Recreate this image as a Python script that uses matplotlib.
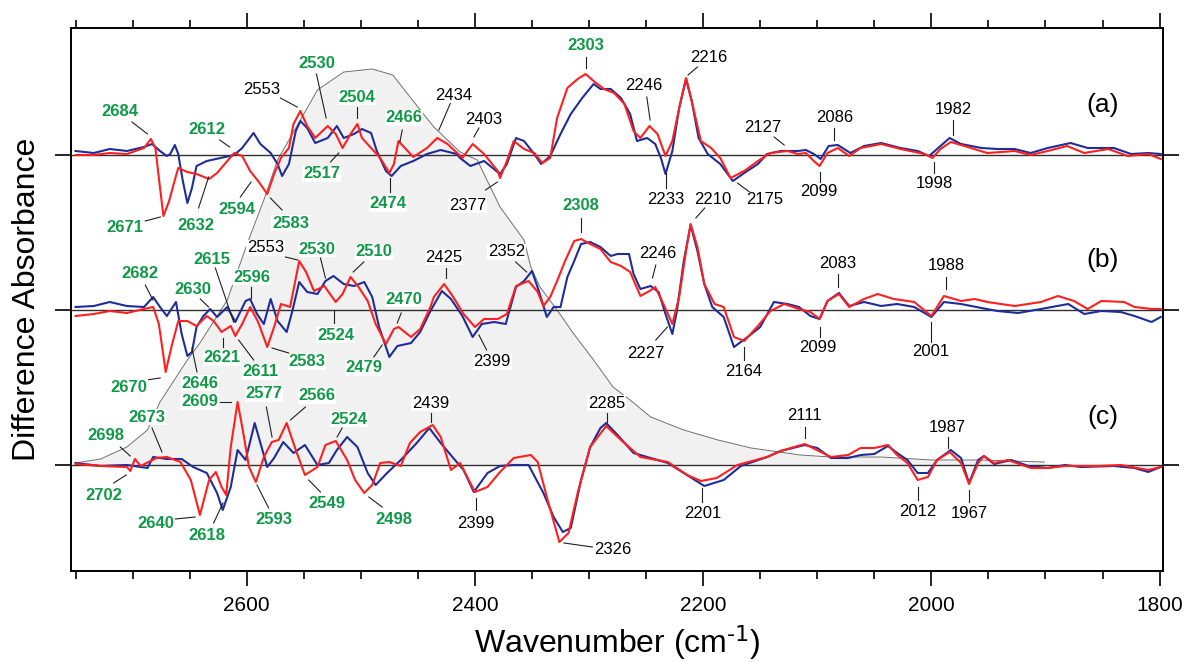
import numpy as np
import matplotlib
matplotlib.use("Agg")
from matplotlib import pyplot as plt

plt.rcParams['font.family'] = ['Liberation Sans', 'DejaVu Sans']
plt.rcParams['mathtext.default'] = 'regular'

# ---- data: wavenumber (cm-1) and difference absorbance (arb. units, per trace) ----
a_blue_w = [2750, 2734, 2720, 2705, 2690, 2683, 2676, 2670, 2667, 2663, 2660, 2656, 2652, 2648, 2644, 2635,
            2623, 2611, 2604, 2594, 2588, 2579, 2573, 2569, 2563, 2557, 2553, 2547, 2540, 2529, 2521, 2515,
            2506, 2499, 2491, 2486, 2478, 2473, 2465, 2454, 2442, 2430, 2416, 2413, 2404, 2392, 2378, 2372,
            2364, 2357, 2348, 2342, 2334, 2325, 2316, 2306, 2296, 2290, 2281, 2272, 2264, 2258, 2249, 2242,
            2237, 2233, 2227, 2221, 2215, 2210, 2204, 2196, 2185, 2174, 2164, 2152, 2144, 2132, 2117, 2110,
            2103, 2097, 2090, 2082, 2071, 2059, 2044, 2027, 2012, 2002, 1994, 1984, 1974, 1956, 1942, 1927,
            1913, 1898, 1878, 1863, 1840, 1825, 1810, 1799]
a_blue_v = [0.4, 0.2, 0.6, 0.4, 0.8, 1.1, 0.4, -0.1, 0.1, 1.0, 0.1, -2.6, -4.8, -3.3, -1.1, -0.6,
            -0.3, 0.0, 0.7, 2.2, 1.1, 0.2, -0.9, -2.1, -0.9, 2.4, 3.4, 2.7, 1.2, 1.7, 2.9, 1.7,
            2.1, 2.6, 2.2, 0.4, -1.6, -2.1, -1.1, -0.6, 0.1, 0.5, 0.1, -0.3, -1.1, -0.6, -1.9, -0.9,
            1.7, 1.4, 0.1, -0.9, -0.1, 2.1, 4.1, 5.7, 7.1, 6.6, 6.6, 5.7, 4.1, 1.4, 1.7, 1.1,
            -0.3, -1.9, 0.4, 4.7, 7.6, 5.4, 1.7, 0.1, -0.9, -2.6, -1.8, -0.9, 0.1, 0.4, 0.4, 0.5,
            0.1, -0.4, 0.9, 1.0, 0.2, 0.9, 1.2, 0.7, 0.4, -0.1, 0.7, 1.7, 1.1, 0.7, 0.6, 0.6,
            0.2, 0.7, 1.2, 0.7, 0.7, 0.1, 0.2, 0.1]

a_red_w = [2750, 2734, 2720, 2705, 2690, 2684, 2680, 2677, 2673, 2668, 2664, 2660, 2652, 2644, 2633, 2626,
           2617, 2611, 2604, 2597, 2590, 2582, 2576, 2570, 2563, 2559, 2553, 2547, 2540, 2529, 2522, 2516,
           2509, 2503, 2499, 2491, 2483, 2475, 2471, 2467, 2459, 2454, 2442, 2433, 2424, 2411, 2402, 2392,
           2380, 2378, 2372, 2366, 2357, 2348, 2341, 2334, 2328, 2319, 2310, 2303, 2296, 2287, 2278, 2269,
           2261, 2255, 2247, 2240, 2233, 2227, 2221, 2215, 2210, 2202, 2193, 2185, 2176, 2164, 2152, 2141,
           2126, 2117, 2110, 2103, 2098, 2091, 2082, 2072, 2062, 2044, 2027, 2006, 1999, 1992, 1983, 1971,
           1951, 1927, 1913, 1898, 1881, 1866, 1845, 1828, 1810, 1799]
a_red_v = [0.0, 0.0, 0.2, 0.1, 0.7, 1.6, 0.7, -2.3, -6.1, -4.6, -2.9, -1.3, -1.7, -1.9, -2.4, -1.8,
           -0.6, 0.2, -0.1, -1.6, -2.6, -3.9, -1.9, -0.3, 0.7, 3.1, 4.4, 2.9, 1.7, 2.9, 2.1, 0.7,
           2.1, 3.1, 1.7, 0.7, -0.3, -1.8, -0.9, 1.4, 0.4, -0.2, 0.7, 1.7, 1.1, -0.3, 1.1, 0.1,
           -1.6, -2.3, -0.6, 1.4, 0.6, 0.2, -0.8, -0.3, 3.7, 6.7, 7.6, 8.1, 7.4, 6.6, 6.2, 5.1,
           2.4, 1.7, 2.9, 2.1, -0.1, 1.4, 4.7, 7.7, 5.4, 1.4, 0.7, -0.3, -2.3, -1.6, -0.6, 0.2,
           0.4, 0.1, 0.2, -0.6, -1.1, 0.2, 0.7, -0.1, 0.7, 1.1, 0.6, 0.1, -0.3, 0.6, 1.3, 0.9,
           0.2, 0.4, 0.0, 0.4, 0.9, 0.2, 0.6, -0.1, 0.1, -0.4]

b_blue_w = [2750, 2734, 2720, 2705, 2690, 2682, 2676, 2670, 2662, 2657, 2652, 2648, 2644, 2638, 2632, 2626,
            2617, 2610, 2601, 2597, 2591, 2585, 2579, 2573, 2565, 2560, 2554, 2547, 2538, 2531, 2524, 2515,
            2506, 2497, 2490, 2484, 2475, 2468, 2456, 2448, 2439, 2429, 2421, 2411, 2402, 2394, 2383, 2373,
            2364, 2357, 2350, 2344, 2337, 2331, 2325, 2319, 2313, 2307, 2299, 2290, 2281, 2275, 2265, 2261,
            2255, 2246, 2239, 2233, 2227, 2223, 2217, 2211, 2205, 2199, 2192, 2182, 2173, 2161, 2150, 2138,
            2126, 2116, 2106, 2098, 2091, 2081, 2072, 2059, 2044, 2030, 2015, 2000, 1989, 1974, 1956, 1942,
            1924, 1904, 1880, 1866, 1851, 1834, 1822, 1807, 1799]
b_blue_v = [0.3, 0.4, 0.8, 0.4, 0.3, 1.3, 0.3, -0.6, 0.8, -2.4, -4.6, -4.2, -1.7, -0.6, 0.1, -0.7,
            0.3, -1.2, 0.9, 1.1, -0.4, -1.4, 1.1, -1.1, -2.2, -0.1, 2.8, 1.8, 1.6, 2.9, 3.4, 2.6,
            2.4, 2.8, 1.3, -1.7, -4.7, -3.6, -3.3, -2.2, -0.1, 1.9, 1.1, -0.6, -2.7, -1.4, -1.2, -1.4,
            2.3, 2.9, 3.9, 1.9, -0.7, 0.3, 0.3, 3.3, 4.9, 6.6, 6.8, 6.3, 5.4, 5.6, 5.6, 3.6,
            2.1, 2.4, 1.8, -0.4, -2.4, -0.1, 4.9, 8.5, 5.9, 2.6, 0.3, -0.7, -3.7, -2.7, -1.7, 0.8,
            0.6, 0.3, -0.6, -0.9, 0.9, 1.7, 0.4, 0.8, 0.4, 0.6, 0.3, -0.7, 0.8, 0.6, 0.2, -0.1,
            -0.3, 0.1, 0.6, -0.4, -0.1, -0.2, -0.6, -1.2, -0.7]

b_red_w = [2750, 2734, 2720, 2705, 2690, 2682, 2677, 2671, 2666, 2660, 2652, 2644, 2635, 2629, 2622, 2614,
           2610, 2604, 2597, 2590, 2582, 2576, 2570, 2562, 2554, 2548, 2541, 2532, 2522, 2516, 2509, 2502,
           2494, 2487, 2478, 2471, 2467, 2456, 2448, 2439, 2436, 2427, 2419, 2410, 2400, 2392, 2380, 2372,
           2364, 2353, 2345, 2340, 2334, 2328, 2321, 2313, 2307, 2299, 2290, 2281, 2272, 2264, 2255, 2247,
           2242, 2234, 2227, 2221, 2215, 2211, 2205, 2199, 2190, 2182, 2173, 2164, 2152, 2141, 2129, 2116,
           2106, 2098, 2091, 2081, 2072, 2059, 2047, 2033, 2015, 2000, 1989, 1974, 1962, 1951, 1927, 1904,
           1889, 1875, 1863, 1851, 1831, 1822, 1807, 1799]
b_red_v = [-0.6, -0.4, -0.1, -0.3, 0.1, 0.3, -1.4, -6.2, -3.7, -1.1, -1.1, -1.6, -0.6, -1.1, -2.2, -1.6,
           -2.6, -1.4, 0.3, -1.2, -3.7, -1.7, 0.6, 0.3, 4.9, 3.8, 1.9, 2.4, 0.8, 1.6, 3.3, 2.3,
           0.9, -1.4, -3.4, -1.9, -1.7, -2.7, -1.9, 0.3, 1.3, 2.6, 1.3, -0.4, -1.7, -0.9, -0.9, -0.4,
           2.4, 2.9, 1.8, 0.4, 1.3, 2.9, 4.9, 6.9, 7.1, 6.6, 6.1, 4.8, 4.4, 3.8, 1.4, 1.9,
           2.3, 0.4, -1.4, 1.3, 5.9, 8.6, 6.3, 2.6, 0.6, 0.3, -2.7, -3.1, -1.6, -0.1, 0.6, 0.1,
           -0.2, -0.9, 0.9, 1.6, 0.3, 1.1, 1.6, 1.1, 0.8, -0.6, 1.4, 0.9, 1.1, 0.8, 0.4, 0.8,
           1.4, 0.9, 0.1, 0.9, 0.8, 0.3, 0.1, 0.1]

c_blue_w = [2750, 2728, 2705, 2687, 2682, 2670, 2657, 2647, 2635, 2626, 2621, 2614, 2608, 2601, 2593, 2588,
            2582, 2576, 2568, 2559, 2549, 2538, 2528, 2521, 2512, 2503, 2494, 2487, 2477, 2465, 2451, 2440,
            2430, 2419, 2410, 2401, 2389, 2378, 2366, 2353, 2340, 2331, 2323, 2316, 2307, 2299, 2290, 2285,
            2275, 2261, 2231, 2217, 2199, 2182, 2167, 2144, 2132, 2111, 2100, 2088, 2073, 2062, 2050, 2038,
            2030, 2021, 2012, 2003, 1995, 1983, 1974, 1967, 1959, 1954, 1945, 1930, 1915, 1898, 1883, 1869,
            1840, 1822, 1810, 1799]
c_blue_v = [0.2, -0.1, 0.0, -0.3, 0.8, 0.6, 0.6, -0.2, -0.8, -2.8, -4.5, -2.2, 1.5, 0.5, 4.2, 2.2,
            -0.2, 0.7, 2.3, 1.2, 2.0, 0.0, 0.2, 1.5, 2.8, 1.8, -0.8, -2.0, -0.8, 0.5, 2.2, 3.7,
            2.2, 0.7, -0.5, -2.7, -0.8, -0.1, 0.0, 0.0, -2.8, -5.2, -6.7, -6.3, -1.5, 1.8, 3.7, 4.2,
            3.0, 1.2, 0.2, -0.8, -2.1, -1.5, -0.1, 0.8, 1.4, 2.0, 1.7, 0.7, 0.7, 1.0, 1.1, 1.9,
            1.2, 0.5, -0.8, -0.8, 0.5, 1.5, 0.7, -1.8, 0.5, 0.9, 0.1, 0.5, -0.1, -0.3, 0.0, -0.2,
            -0.1, -0.3, -0.7, -0.2]

c_red_w = [2750, 2728, 2705, 2702, 2698, 2693, 2679, 2670, 2658, 2649, 2641, 2633, 2627, 2622, 2618, 2614,
           2608, 2603, 2598, 2592, 2585, 2578, 2572, 2565, 2557, 2549, 2538, 2531, 2522, 2512, 2505, 2497,
           2490, 2483, 2475, 2465, 2457, 2448, 2437, 2430, 2421, 2413, 2400, 2389, 2378, 2366, 2351, 2345,
           2337, 2326, 2318, 2310, 2299, 2285, 2272, 2255, 2231, 2214, 2202, 2188, 2170, 2144, 2132, 2111,
           2088, 2073, 2062, 2050, 2038, 2030, 2021, 2012, 2003, 1995, 1984, 1974, 1967, 1959, 1954, 1945,
           1933, 1913, 1898, 1883, 1854, 1834, 1810, 1799]
c_red_v = [0.1, -0.1, -0.2, -0.6, 0.6, -0.1, 0.7, 0.8, 0.3, -1.5, -5.0, -1.5, -0.7, -2.2, -3.0, 1.8,
           6.3, 3.2, -0.2, -1.7, 0.8, 2.3, 2.5, 4.2, 1.5, -1.0, -0.2, 2.0, 2.4, 0.5, -1.5, -2.8,
           -2.0, 0.2, 0.3, -0.1, 2.2, 3.3, 4.0, 2.8, -0.5, 0.2, -2.7, -2.2, -0.7, 0.7, 1.0, 0.3,
           -3.2, -7.7, -6.8, -2.8, 1.8, 3.9, 2.5, 0.8, 0.3, -1.0, -1.6, -1.3, 0.0, 0.8, 1.4, 2.1,
           0.8, 1.0, 1.7, 1.7, 2.0, 1.0, 0.2, -1.5, -1.2, 0.5, 1.3, 0.2, -1.9, 0.2, 0.9, 0.2,
           0.5, -0.3, -0.3, -0.1, -0.1, 0.0, -0.5, -0.2]

# broad grey reference band (drawn on the (c) baseline)
band_w = [2750, 2728, 2705, 2687, 2676, 2652, 2641, 2617, 2600, 2585, 2573, 2538, 2515, 2490, 2472, 2450,
          2436, 2413, 2398, 2378, 2357, 2351, 2343, 2328, 2314, 2296, 2279, 2264, 2246, 2217, 2187, 2158,
          2115, 2088, 2044, 2000, 1957, 1901]
band_v = [0.2, 0.6, 1.8, 3.5, 6.3, 10.5, 12.2, 16.5, 22.0, 26.5, 30.5, 37.5, 39.3, 39.6, 39.0, 35.8,
          33.8, 31.3, 30.5, 25.8, 22.5, 19.8, 17.8, 15.5, 13.2, 10.5, 7.8, 6.5, 4.8, 3.5, 2.5, 1.7,
          1.0, 0.8, 0.8, 0.5, 0.5, 0.3]

offsets = {'a': 0.0, 'b': -15.5, 'c': -31.0}
panel_labels = ['(a)', '(b)', '(c)']

# peak labels: text, text x, text y, leader start x, y, leader end x, y, green?
labels = [
    ('2684', 2711, 4.3, 2700.6, 3.3, 2686.9, 2.1, True),
    ('2553', 2586.5, 6.6, 2570.5, 5.7, 2555.8, 4.8, False),
    ('2530', 2538.3, 9.1, 2538.9, 8.1, 2530.4, 3.7, True),
    ('2504', 2503.2, 5.8, 2503.2, 4.8, 2503.2, 3.7, True),
    ('2612', 2634.8, 2.5, 2623.7, 1.5, 2615.0, 0.8, True),
    ('2466', 2462.3, 3.7, 2463.7, 2.5, 2465.8, 1.3, True),
    ('2434', 2418.5, 6.0, 2421.4, 5.2, 2431.6, 2.5, False),
    ('2403', 2392.1, 3.6, 2396.5, 2.7, 2400.9, 1.8, False),
    ('2377', 2406.7, -5.0, 2390.7, -3.5, 2380.4, -2.7, False),
    ('2303', 2302.9, 10.9, 2302.9, 9.8, 2302.9, 8.7, True),
    ('2246', 2251.8, 6.9, 2249.4, 5.8, 2246.5, 3.5, False),
    ('2216', 2194.8, 9.8, 2205.0, 8.8, 2213.2, 8.0, False),
    ('2233', 2232.8, -4.5, 2232.8, -3.3, 2232.8, -1.8, False),
    ('2175', 2146.5, -4.5, 2158.2, -3.8, 2169.9, -2.8, False),
    ('2127', 2147.9, 2.7, 2137.8, 1.8, 2129.0, 1.0, False),
    ('2086', 2085.1, 3.8, 2085.1, 2.7, 2085.1, 1.5, False),
    ('2099', 2098.3, -3.6, 2097.7, -2.7, 2097.7, -1.7, False),
    ('1982', 1980.4, 4.6, 1981.3, 3.5, 1981.3, 2.0, False),
    ('1998', 1997.4, -2.9, 1997.4, -1.8, 1997.4, -0.7, False),
    ('2671', 2706.5, -7.2, 2688.9, -6.6, 2675.7, -6.2, True),
    ('2632', 2645.0, -7.1, 2642.2, -5.3, 2633.4, -2.2, True),
    ('2594', 2608.5, -5.5, 2605.6, -4.2, 2596.2, -2.7, True),
    ('2583', 2561.7, -6.8, 2569.0, -5.5, 2579.3, -4.3, True),
    ('2517', 2534.5, -1.9, 2526.6, -0.7, 2519.3, 0.2, True),
    ('2474', 2476.0, -4.9, 2474.6, -3.7, 2474.6, -2.3, True),
    # (b)
    ('2682', 2693.3, -11.9, 2688.9, -13.0, 2682.2, -14.5, True),
    ('2630', 2647.1, -13.4, 2640.7, -14.4, 2633.4, -15.2, True),
    ('2615', 2630.4, -10.4, 2627.5, -11.3, 2611.5, -16.7, True),
    ('2596', 2595.9, -12.2, 2595.9, -13.2, 2595.9, -14.3, True),
    ('2553', 2583.6, -9.3, 2566.1, -10.2, 2555.3, -10.5, False),
    ('2530', 2538.3, -9.4, 2535.4, -10.3, 2531.0, -12.3, True),
    ('2510', 2488.6, -9.7, 2497.4, -10.7, 2506.7, -11.7, True),
    ('2425', 2427.2, -10.2, 2425.1, -11.3, 2425.1, -12.3, False),
    ('2470', 2462.3, -14.4, 2464.6, -15.8, 2468.1, -16.8, True),
    ('2524', 2522.2, -18.0, 2523.1, -16.8, 2523.1, -15.5, True),
    ('2479', 2497.4, -21.3, 2488.6, -20.2, 2481.3, -19.0, True),
    ('2621', 2621.6, -20.3, 2621.1, -19.2, 2621.1, -18.3, True),
    ('2611', 2588.0, -21.7, 2593.9, -20.5, 2607.1, -18.5, True),
    ('2583', 2547.1, -20.7, 2563.2, -19.8, 2577.8, -19.3, True),
    ('2670', 2703.6, -23.2, 2688.0, -22.5, 2675.8, -22.3, True),
    ('2646', 2640.7, -22.8, 2643.6, -21.7, 2648.0, -19.3, True),
    ('2399', 2384.8, -20.7, 2389.8, -19.5, 2396.5, -18.0, False),
    ('2352', 2372.2, -9.7, 2364.3, -10.7, 2354.7, -11.7, False),
    ('2308', 2307.3, -5.1, 2307.3, -6.3, 2307.3, -7.7, True),
    ('2246', 2240.0, -9.8, 2241.5, -11.0, 2244.4, -12.3, False),
    ('2210', 2191.8, -4.4, 2198.6, -5.3, 2206.4, -6.3, False),
    ('2227', 2250.3, -19.8, 2241.5, -18.5, 2231.3, -17.2, False),
    ('2164', 2164.6, -21.7, 2164.1, -20.5, 2164.1, -19.2, False),
    ('2083', 2082.2, -10.8, 2082.2, -11.9, 2082.2, -13.2, False),
    ('2099', 2099.2, -19.2, 2097.7, -18.2, 2097.7, -17.2, False),
    ('1988', 1986.5, -11.1, 1987.2, -12.2, 1987.2, -13.4, False),
    ('2001', 2000.9, -19.7, 2000.3, -18.7, 2000.3, -16.7, False),
    # (c)
    ('2698', 2723.1, -28.1, 2710.8, -29.2, 2702.1, -30.1, True),
    ('2673', 2687.4, -26.2, 2683.0, -27.3, 2674.3, -29.7, True),
    ('2609', 2641.3, -24.7, 2623.1, -24.7, 2613.7, -24.7, True),
    ('2577', 2585.1, -23.9, 2582.8, -25.2, 2577.8, -28.2, True),
    ('2566', 2538.3, -24.1, 2548.5, -25.2, 2561.7, -26.5, True),
    ('2524', 2510.6, -26.4, 2516.4, -27.3, 2520.8, -28.2, True),
    ('2702', 2724.9, -34.0, 2716.7, -32.8, 2705.6, -32.0, True),
    ('2640', 2680.1, -36.8, 2662.6, -36.4, 2645.1, -36.2, True),
    ('2618', 2634.8, -38.0, 2629.0, -36.8, 2620.8, -34.8, True),
    ('2593', 2576.4, -36.5, 2580.8, -35.3, 2591.0, -33.0, True),
    ('2549', 2529.5, -34.8, 2535.4, -33.7, 2545.7, -32.5, True),
    ('2498', 2471.4, -36.4, 2481.3, -35.2, 2493.0, -34.2, True),
    ('2439', 2438.9, -24.8, 2438.9, -25.8, 2438.9, -26.7, False),
    ('2399', 2399.4, -36.8, 2399.4, -35.5, 2399.4, -34.3, False),
    ('2285', 2284.5, -24.8, 2284.5, -25.8, 2284.5, -26.7, False),
    ('2326', 2279.5, -39.5, 2297.1, -39.2, 2322.0, -38.8, False),
    ('2201', 2200.6, -35.8, 2200.6, -34.7, 2200.6, -33.3, False),
    ('2111', 2110.8, -26.1, 2110.8, -27.2, 2110.8, -28.3, False),
    ('1987', 1985.6, -27.3, 1985.6, -28.2, 1985.6, -29.3, False),
    ('2012', 2011.5, -35.6, 2011.5, -34.5, 2011.5, -33.2, False),
    ('1967', 1966.7, -35.9, 1966.7, -34.7, 1966.7, -33.5, False),
]

BLUE = '#1f2d99'
RED = '#ff1f1f'
GREEN = '#109a48'

fig = plt.figure(figsize=(11.84, 6.62), dpi=100)
ax = fig.add_axes([71 / 1184, 1 - 571 / 662, 1092 / 1184, 543 / 662])

# grey band
bw = np.array(band_w)
bv = np.array(band_v) + offsets['c']
ax.fill_between(bw, offsets['c'], bv, color='#f1f1f1', lw=0, zorder=1)
ax.plot(bw, bv, color='#707070', lw=0.7, zorder=2)

for key in ['a', 'b', 'c']:
    ax.axhline(offsets[key], color='#303030', lw=1.0, zorder=2)

traces = [
    ('a', a_blue_w, a_blue_v, a_red_w, a_red_v),
    ('b', b_blue_w, b_blue_v, b_red_w, b_red_v),
    ('c', c_blue_w, c_blue_v, c_red_w, c_red_v),
]
for key, bwn, bval, rwn, rval in traces:
    off = offsets[key]
    ax.plot(bwn, np.array(bval) + off, color=BLUE, lw=1.5, zorder=3)
    ax.plot(rwn, np.array(rval) + off, color=RED, lw=1.5, zorder=4)

for txt, tx, ty, x1, y1, x2, y2, green in labels:
    ax.plot([x1, x2], [y1, y2], color='#202020', lw=0.8, zorder=5)
    ax.text(tx, ty, txt, ha='center', va='center', fontsize=12,
            color=GREEN if green else 'black', fontweight='bold' if green else 'normal',
            bbox=dict(facecolor='white', edgecolor='none', pad=0.5), zorder=6)

for lab, key in zip(panel_labels, ['a', 'b', 'c']):
    ax.text(1850, offsets[key] + 5.0 - (0.2 if key == 'c' else 0), lab,
            ha='center', va='center', fontsize=19)

ax.set_xlim(2754, 1797)
ax.set_ylim(-41.6, 12.7)
ax.set_xticks([2600, 2400, 2200, 2000, 1800])
ax.set_xticks(np.arange(1800, 2751, 50), minor=True)
ax.set_yticks([offsets['c'], offsets['b'], offsets['a']])
ax.set_yticklabels([])
ax.tick_params(axis='x', which='both', direction='out', top=True, bottom=True, width=1.2,
               labelsize=15, pad=7)
ax.tick_params(axis='x', which='major', length=11)
ax.tick_params(axis='x', which='minor', length=5.5)
ax.tick_params(axis='y', which='major', direction='out', left=True, right=True, length=11.5, width=1.2)
for s in ax.spines.values():
    s.set_linewidth(1.4)

ax.set_xlabel('Wavenumber (cm$^{\\text{-1}}$)', fontsize=23, labelpad=6)
ax.set_ylabel('Difference Absorbance', fontsize=23, labelpad=6)

fig.savefig('out.png', dpi=100)
